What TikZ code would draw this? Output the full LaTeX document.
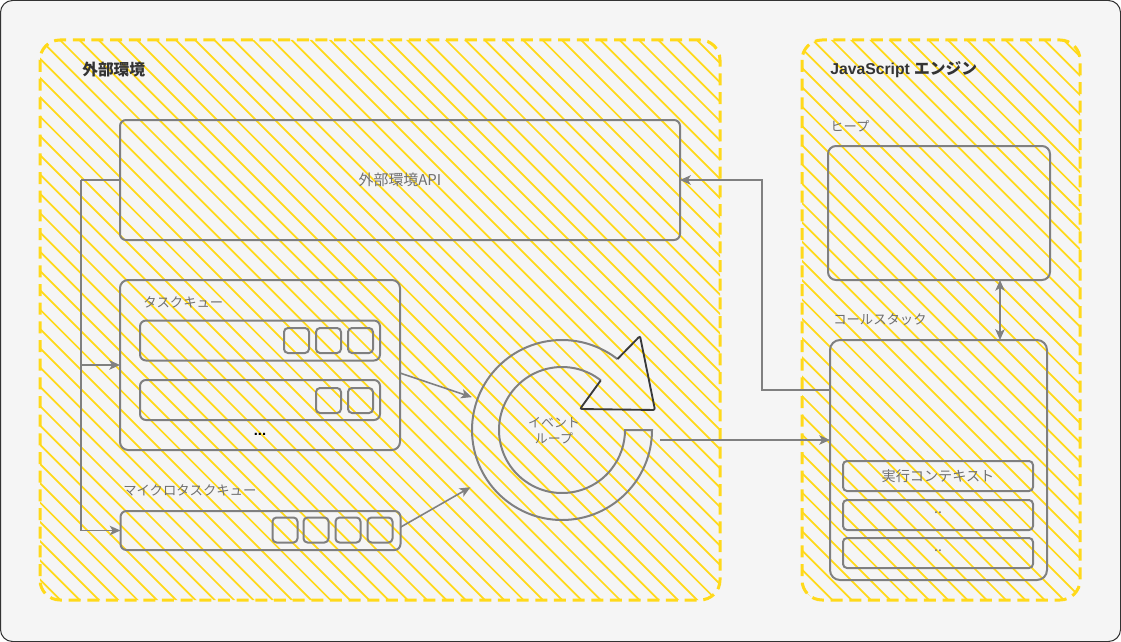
\documentclass[tikz,border=0pt]{standalone}
\usepackage{fontspec}
\setmainfont{Liberation Sans}
\newfontfamily\jp{Noto Sans CJK JP}
\usetikzlibrary{arrows.meta,calc,positioning}

% ---------- Colours ----------
\definecolor{bgcolor}{HTML}{F5F5F5}
\definecolor{framecolor}{HTML}{333333}
\definecolor{hatchcolor}{HTML}{FFD91A}
\definecolor{linecolor}{HTML}{808080}
\definecolor{labelcolor}{HTML}{707070}
\definecolor{titlecolor}{HTML}{333333}
\definecolor{headcolor}{HTML}{3A3A3A}

\begin{document}
\begin{tikzpicture}[x=0.75pt,y=0.75pt,
	>={Stealth[length=8pt,width=7pt,inset=2pt]},
	box/.style={draw=linecolor, line width=1.5pt, rounded corners=4.5pt, inner sep=0pt, outer sep=0pt},
	cell/.style={box, minimum width=18.75pt, minimum height=18.75pt, rounded corners=3pt},
	lbl/.style={font=\jp\fontsize{10}{11}\selectfont, text=labelcolor, anchor=west, inner sep=0pt},
	zonetitle/.style={font=\bfseries\fontsize{11.8}{13}\selectfont, text=titlecolor, anchor=west, inner sep=0pt},
	conn/.style={draw=linecolor, line width=1.2pt, ->},
	hatch/.style={draw=hatchcolor, line width=1.3pt},
	zone/.style={draw=hatchcolor, line width=2.25pt, dash pattern=on 9pt off 5pt, rounded corners=15pt},
]

% (0,0) coordinate = upper left corner, one unit = one pixel of the reference

% ---------- Parameters of the drawing ----------
\def\HatchStep{19.3}   % Horizontal distance between two hatch lines
\def\HatchPhase{20}    % Offset of the hatch lines
\def\RingIn{63}        % Inner radius of the event loop
\def\RingOut{90}       % Outer radius of the event loop

% ---------- Frame ----------
\useasboundingbox (0,0) rectangle (1121,-642);
\draw[draw=framecolor, fill=bgcolor, line width=0.75pt, rounded corners=9pt] (0.5,-0.5) rectangle (1120.5,-641.5);

% ---------- Hatched zones ----------
\foreach \xa/\xb in {40/720, 802/1080}{
	\begin{scope}
		\clip[rounded corners=15pt] (\xa,-40) rectangle (\xb,-600);
		\foreach \i in {-30,...,54}
			\draw[hatch] ({\HatchPhase+\HatchStep*\i},0) -- ++(700,-700);
	\end{scope}
	\draw[zone] (\xa,-40) rectangle (\xb,-600);
}

\node[zonetitle] (envtitle) at (82,-70) {\jp 外部環境};
\node[zonetitle] (jstitle) at (830,-70) {JavaScript {\jp エンジン}};

% ---------- Environment API ----------
\node[box, minimum width=420pt, minimum height=90pt, font=\jp\fontsize{11.2}{12}\selectfont, text=labelcolor] (api) at (400,-180) {外部環境API};

% ---------- Task queue ----------
\node[box, rounded corners=6pt, minimum width=210pt, minimum height=127.5pt] (tq) at (260,-365) {};
\node[lbl] (tqlabel) at (143,-302) {タスクキュー};
\node[box, minimum width=180pt, minimum height=30pt] (tqa) at (260,-340.5) {};
\node[box, minimum width=180pt, minimum height=30pt] (tqb) at (260,-400) {};
\foreach \x [count=\n] in {296.5,328.5,360.5}
	\node[cell] (tqa-\n) at (\x,-340.5) {};
\foreach \x [count=\n] in {328.5,360.5}
	\node[cell] (tqb-\n) at (\x,-400.5) {};
\node[font=\bfseries\fontsize{11}{12}\selectfont, inner sep=0pt] (tqdots) at (260,-434) {...};

% ---------- Microtask queue ----------
\node[lbl] (mtqlabel) at (123,-490) {マイクロタスクキュー};
\node[box, minimum width=210pt, minimum height=29.25pt] (mtq) at (260.5,-530.5) {};
\foreach \x [count=\n] in {285,316,348,380}
	\node[cell] (mtq-\n) at (\x,-530) {};

% ---------- Event loop ----------
\node[circle, minimum size=144pt, inner sep=0pt, outer sep=0pt] (loop) at (562,-430) {};
\draw[draw=linecolor, line width=1.5pt]
	(600.79,-380.36) arc[start angle=52, end angle=360, radius=\RingIn]
	-- ++(\RingOut-\RingIn,0) arc[start angle=360, end angle=52, radius=\RingOut];
\draw[draw=headcolor, line width=1.4pt, rounded corners=1.5pt]
	(617.41,-359.08) -- (640,-336) -- (655,-410) -- (580,-409) -- (600.79,-380.36);
\node[font=\jp\fontsize{9.7}{12}\selectfont, text=labelcolor, align=center] (looplabel) at (554,-431) {イベント\\ループ};

% ---------- JavaScript engine ----------
\node[lbl] (heaplabel) at (830,-126) {ヒープ};
\node[box, rounded corners=6pt, minimum width=166.5pt, minimum height=100.5pt] (heap) at (939,-213) {};
\node[lbl] (cslabel) at (833,-320) {コールスタック};
\node[box, rounded corners=7.5pt, minimum width=162.75pt, minimum height=180pt] (cs) at (938.5,-460) {};
\foreach \y/\t [count=\n] in {476/実行コンテキスト, 515/\raisebox{4pt}{..}, 553/\raisebox{4pt}{..}}
	\node[box, rounded corners=3pt, minimum width=142.5pt, minimum height=22.5pt, font=\jp\fontsize{10.6}{11}\selectfont, text=labelcolor] (ctx-\n) at (938,-\y) {\t};

% ---------- Connectors ----------
\coordinate (bus) at (81,-180);
\draw[conn, -] (api.west) -- (bus);
\draw[conn] (bus) |- (tq.west);
\draw[conn] (bus) |- (mtq.west);
\draw[conn] ([yshift=-6pt]tq.east) -- (loop.160);
\draw[conn] ([yshift=2.5pt]mtq.east) -- ($(loop.center)+(212:108)$);

\coordinate (loopout) at (660,-440);
\draw[conn] (loopout) -- (loopout -| cs.west);

\coordinate (ret) at (762,-390);
\draw[conn] (ret -| cs.west) -- (ret) |- (api.east);

\coordinate (hx) at (1000,0);
\draw[conn, <->] (hx |- heap.south) -- (hx |- cs.north);

\end{tikzpicture}
\end{document}
